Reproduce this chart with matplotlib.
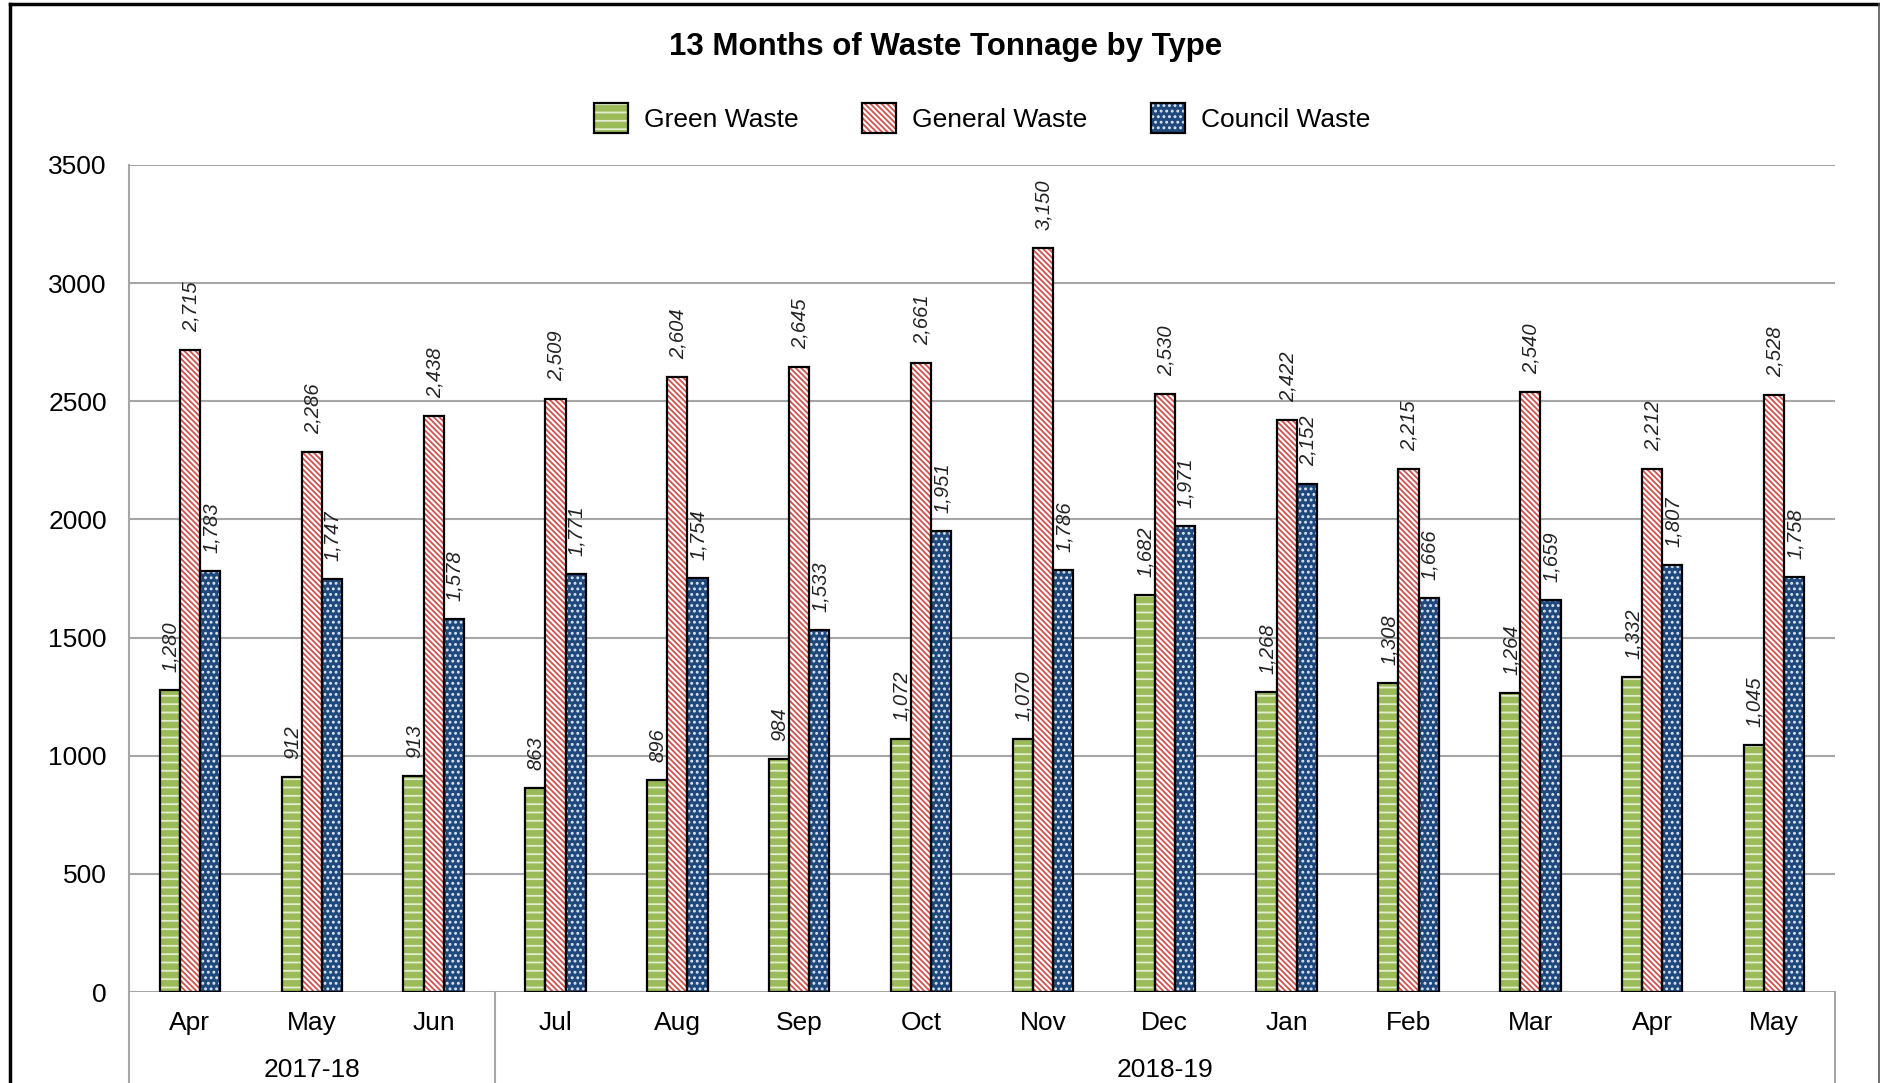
import matplotlib
matplotlib.use("Agg")
import matplotlib.pyplot as plt
from matplotlib.patches import Patch
from matplotlib.lines import Line2D
import matplotlib.transforms as mtransforms

plt.rcParams['font.family'] = ['Liberation Sans', 'DejaVu Sans']
plt.rcParams['hatch.linewidth'] = 1.3

months = ["Apr", "May", "Jun", "Jul", "Aug", "Sep", "Oct", "Nov", "Dec",
          "Jan", "Feb", "Mar", "Apr", "May"]
years = ["2017-18", "2018-19"]
year_spans = [(0, 3), (3, 14)]  # month index ranges for each year group

green = [1280, 912, 913, 863, 896, 984, 1072, 1070, 1682, 1268, 1308, 1264, 1332, 1045]
general = [2715, 2286, 2438, 2509, 2604, 2645, 2661, 3150, 2530, 2422, 2215, 2540, 2212, 2528]
council = [1783, 1747, 1578, 1771, 1754, 1533, 1951, 1786, 1971, 2152, 1666, 1659, 1807, 1758]

series_names = ["Green Waste", "General Waste", "Council Waste"]

W, H = 1881, 1083
fig = plt.figure(figsize=(W / 100, H / 100), dpi=100)
ax = fig.add_axes([129 / W, 1 - 992 / H, (1835 - 129) / W, (992 - 165) / H])

# face colour, hatch colour, hatch pattern for each series
styles = [
    ("#9BBB59", "#E4EDCF", "--"),
    ("white", "#D0524E", "\\" * 6),
    ("#1F497D", "#DCE4F0", "..."),
]

bw = 0.165
x = list(range(len(months)))
handles = []
for k, (vals, (fc, hc, hatch)) in enumerate(zip([green, general, council], styles)):
    pos = [i + (k - 1) * bw for i in x]
    ax.bar(pos, vals, bw, color=fc, edgecolor=hc, hatch=hatch, linewidth=0, zorder=3)
    ax.bar(pos, vals, bw, fill=False, edgecolor="black", linewidth=1.6, zorder=4)
    for p, v in zip(pos, vals):
        ax.annotate(f"{v:,}", xy=(p, v), xytext=(1, 18), textcoords="offset pixels",
                    rotation=90, style="italic", ha="center", va="bottom",
                    fontsize=14.5, color="#222222", zorder=5)
    handles.append((Patch(facecolor=fc, edgecolor=hc, hatch=hatch, linewidth=0),
                    Patch(fill=False, edgecolor="black", linewidth=1.6)))

ax.set_xlim(-0.5, len(months) - 0.5)
ax.set_ylim(0, 3500)
ax.set_yticks(range(0, 3501, 500))
ax.tick_params(axis="y", length=0, pad=16, labelsize=19)
ax.yaxis.grid(True, color="#A6A6A6", linewidth=1.5, zorder=0)
ax.set_axisbelow(True)
for s in ["top", "right", "bottom"]:
    ax.spines[s].set_visible(False)
ax.spines["left"].set_color("#A6A6A6")
ax.spines["left"].set_linewidth(1.5)

# multi-level category axis
ax.set_xticks([])
for i, m in enumerate(months):
    ax.annotate(m, xy=(i, 0), xycoords=("data", "axes fraction"), xytext=(0, -31),
                textcoords="offset pixels", ha="center", va="center", fontsize=19)
trans = mtransforms.blended_transform_factory(ax.transData, ax.transAxes)
edges = sorted(set([a - 0.5 for a, b in year_spans] + [b - 0.5 for a, b in year_spans]))
for e in edges:
    ax.add_line(Line2D([e, e], [0, -0.2], transform=trans, color="#A6A6A6",
                       linewidth=1.5, clip_on=False))
for yname, (a, b) in zip(years, year_spans):
    ax.annotate(yname, xy=((a + b - 1) / 2, 0), xycoords=("data", "axes fraction"),
                xytext=(0, -78), textcoords="offset pixels", ha="center", va="center",
                fontsize=19)

fig.text(946 / W, 1 - 47 / H, "13 Months of Waste Tonnage by Type",
         ha="center", va="center", fontsize=22.5, fontweight="bold")

fig.legend(handles, series_names, loc="center", bbox_to_anchor=(982 / W, 1 - 118 / H),
           ncol=3, frameon=False, fontsize=19, handlelength=1.3, handleheight=1.4,
           handletextpad=0.6, columnspacing=2.4)

# chart border
fig.add_artist(Line2D([10 / W, 10 / W], [0, 1 - 4 / H], color="black", linewidth=2.5))
fig.add_artist(Line2D([10 / W, 1879 / W], [1 - 4 / H, 1 - 4 / H], color="black", linewidth=2.5))
fig.add_artist(Line2D([1879 / W, 1879 / W], [0, 1 - 4 / H], color="#555555", linewidth=1.2))

fig.savefig("out.png", dpi=100)
